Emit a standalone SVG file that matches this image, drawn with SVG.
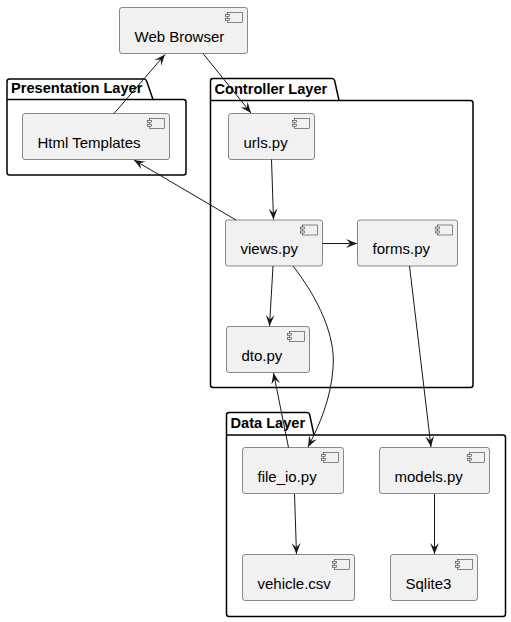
<svg xmlns="http://www.w3.org/2000/svg" width="511" height="622" viewBox="0 0 511 622">
<style>
.pkg{fill:#FFFFFF;stroke:#000000;stroke-width:1.5}
.pkgt{font-family:"Liberation Sans",Arial,sans-serif;font-size:14.6px;font-weight:bold;fill:#000000}
.box{fill:#F1F1F1;stroke:#181818;stroke-width:0.5}
.ico{fill:#F1F1F1;stroke:#181818;stroke-width:0.5}
.lbl{font-family:"Liberation Sans",Arial,sans-serif;font-size:15px;fill:#000000}
.edge{fill:none;stroke:#181818;stroke-width:1}
</style>
<defs>
<marker id="arr" viewBox="0 0 10 10" refX="10" refY="5" markerWidth="11" markerHeight="11" markerUnits="userSpaceOnUse" orient="auto">
<path d="M10,5 L0,1 L4,5 L0,9 Z" fill="#181818"/>
</marker>
<g id="icon">
<rect x="0" y="0" width="15" height="10" class="ico"/>
<rect x="-2" y="2" width="4" height="2" class="ico"/>
<rect x="-2" y="6" width="4" height="2" class="ico"/>
</g>
</defs>

<g id="pkg-presentation">
<path class="pkg" d="M7,81.5 Q7,79 9.5,79 L144,79 Q146,79 146.6,81 L153,99.5 L183.5,99.5 Q186,99.5 186,102 L186,172.5 Q186,175 183.5,175 L9.5,175 Q7,175 7,172.5 Z"/>
<line class="pkg" x1="7" y1="99.5" x2="153" y2="99.5"/>
<text class="pkgt" x="11" y="93">Presentation Layer</text>
</g>
<g id="pkg-controller">
<path class="pkg" d="M210.5,81 Q210.5,78.5 213,78.5 L332,78.5 Q334,78.5 334.6,80.5 L339,100.5 L470.5,100.5 Q473,100.5 473,103 L473,385 Q473,387.5 470.5,387.5 L213,387.5 Q210.5,387.5 210.5,385 Z"/>
<line class="pkg" x1="210.5" y1="100.5" x2="339" y2="100.5"/>
<text class="pkgt" x="214.5" y="94">Controller Layer</text>
</g>
<g id="pkg-data">
<path class="pkg" d="M226.5,415 Q226.5,412.5 229,412.5 L307,412.5 Q309,412.5 309.6,414.5 L314,435 L503,435 Q505.5,435 505.5,437.5 L505.5,614 Q505.5,616.5 503,616.5 L229,616.5 Q226.5,616.5 226.5,614 Z"/>
<line class="pkg" x1="226.5" y1="435" x2="314" y2="435"/>
<text class="pkgt" x="230.5" y="427.5">Data Layer</text>
</g>

<g id="node-webbrowser">
<rect class="box" x="119.5" y="7.5" width="128" height="46" rx="2.5"/>
<use href="#icon" x="227.5" y="12.5"/>
<text class="lbl" x="134.5" y="41.5">Web Browser</text>
</g>
<g id="node-htmltemplates">
<rect class="box" x="22.5" y="113.5" width="147" height="46" rx="2.5"/>
<use href="#icon" x="149.5" y="118.5"/>
<text class="lbl" x="37.5" y="147.5">Html Templates</text>
</g>
<g id="node-urls">
<rect class="box" x="228.5" y="113.5" width="86" height="46" rx="2.5"/>
<use href="#icon" x="294.5" y="118.5"/>
<text class="lbl" x="243.5" y="147.5">urls.py</text>
</g>
<g id="node-views">
<rect class="box" x="225.5" y="220" width="97" height="46" rx="2.5"/>
<use href="#icon" x="302.5" y="225"/>
<text class="lbl" x="240.5" y="254">views.py</text>
</g>
<g id="node-forms">
<rect class="box" x="357.5" y="220" width="100" height="46" rx="2.5"/>
<use href="#icon" x="437.5" y="225"/>
<text class="lbl" x="372.5" y="254">forms.py</text>
</g>
<g id="node-dto">
<rect class="box" x="226.5" y="326.5" width="83" height="46" rx="2.5"/>
<use href="#icon" x="289.5" y="331.5"/>
<text class="lbl" x="241.5" y="360.5">dto.py</text>
</g>
<g id="node-fileio">
<rect class="box" x="242.5" y="447.5" width="101" height="46" rx="2.5"/>
<use href="#icon" x="323.5" y="452.5"/>
<text class="lbl" x="257.5" y="481.5">file_io.py</text>
</g>
<g id="node-models">
<rect class="box" x="379.5" y="447.5" width="110" height="46" rx="2.5"/>
<use href="#icon" x="469.5" y="452.5"/>
<text class="lbl" x="394.5" y="481.5">models.py</text>
</g>
<g id="node-vehicle">
<rect class="box" x="242.5" y="554.5" width="112" height="46" rx="2.5"/>
<use href="#icon" x="334.5" y="559.5"/>
<text class="lbl" x="257.5" y="588.5">vehicle.csv</text>
</g>
<g id="node-sqlite">
<rect class="box" x="390.5" y="554.5" width="87" height="46" rx="2.5"/>
<use href="#icon" x="457.5" y="559.5"/>
<text class="lbl" x="405.5" y="588.5">Sqlite3</text>
</g>

<g id="connectors">
<path class="edge" marker-end="url(#arr)" d="M114,113.5 L165,54.5"/>
<path class="edge" marker-end="url(#arr)" d="M203,53.5 L251,113"/>
<path class="edge" marker-end="url(#arr)" d="M236,220 L134,160"/>
<path class="edge" marker-end="url(#arr)" d="M271.5,159.5 L273.5,219.5"/>
<path class="edge" marker-end="url(#arr)" d="M322.5,243.5 L357,243.5"/>
<path class="edge" marker-end="url(#arr)" d="M273,266 L269.5,326"/>
<path class="edge" marker-end="url(#arr)" d="M293,266 C318,298 336,336 333,368 C331,398 320,424 308,447"/>
<path class="edge" marker-end="url(#arr)" d="M288.5,447.5 L273.5,373"/>
<path class="edge" marker-end="url(#arr)" d="M409.5,266 L431,447"/>
<path class="edge" marker-end="url(#arr)" d="M294.5,494 L296.5,554"/>
<path class="edge" marker-end="url(#arr)" d="M434.5,494 L434.5,554"/>
</g>
</svg>
